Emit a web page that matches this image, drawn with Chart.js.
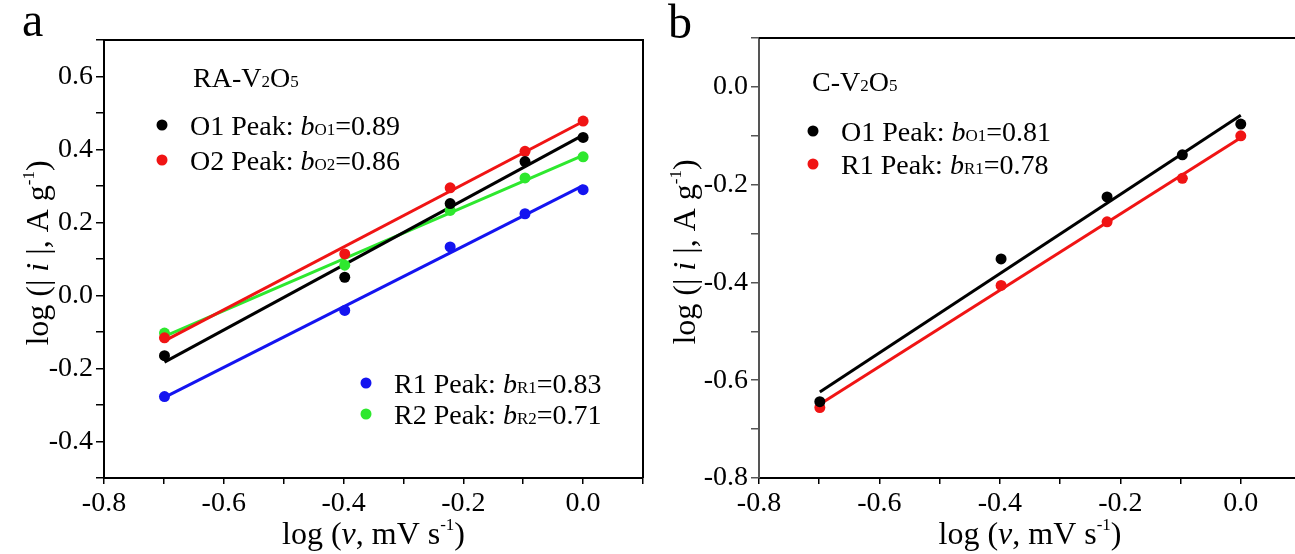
<!DOCTYPE html>
<html>
<head>
<meta charset="utf-8">
<script src="https://cdn.jsdelivr.net/npm/chart.js@4.4.1/dist/chart.umd.min.js"></script>
<style>
  html, body { margin: 0; padding: 0; background: #fff; overflow: hidden; width: 1295px; height: 554px; }
  canvas { position: absolute; top: 0; }
  #panelA { left: 0; }
  #panelB { left: 650px; }
</style>
</head>
<body>
<canvas id="panelA" width="650" height="554"></canvas>
<canvas id="panelB" width="680" height="554"></canvas>
<script>
// log10 of the scan rates 0.2, 0.4, 0.6, 0.8 and 1.0 mV/s
const logScanRate = [-0.699, -0.398, -0.222, -0.097, 0.0];

// RA-V2O5: log|i| of each redox peak
const raO1 = [-0.165, 0.050, 0.252, 0.367, 0.433];
const raO2 = [-0.116, 0.114, 0.295, 0.395, 0.478];
const raR1 = [-0.277, -0.041, 0.133, 0.224, 0.290];
const raR2 = [-0.103, 0.083, 0.233, 0.322, 0.380];
const raPeaks = ['O1', 'O2', 'R1', 'R2'];
const raB = [0.89, 0.86, 0.83, 0.71];

// C-V2O5: log|i| of each redox peak
const cO1 = [-0.644, -0.352, -0.225, -0.139, -0.076];
const cR1 = [-0.656, -0.406, -0.276, -0.187, -0.100];
const cPeaks = ['O1', 'R1'];
const cB = [0.81, 0.78];

// Axis ranges
const xRange = [-0.8, 0.1];
const raYRange = [-0.5, 0.7];
const cYRange = [-0.8, 0.1];

const COLORS = { black: '#000000', red: '#f01414', blue: '#1414f0', green: '#2ee82e' };
const SERIF = '"Liberation Serif", "Times New Roman", serif';
Chart.defaults.font.family = SERIF;

// Fit line with the reported slope b, passing through the centroid of the points
function fitLine(xs, ys, b) {
  const mx = xs.reduce((s, v) => s + v, 0) / xs.length;
  const my = ys.reduce((s, v) => s + v, 0) / ys.length;
  const x0 = Math.min(...xs), x1 = Math.max(...xs);
  return [{ x: x0, y: my + b * (x0 - mx) }, { x: x1, y: my + b * (x1 - mx) }];
}

function pointsOf(xs, ys) { return xs.map((x, i) => ({ x, y: ys[i] })); }

function seriesSets(list) {
  const sets = [];
  list.forEach(s => {
    sets.push({ type: 'scatter', data: pointsOf(logScanRate, s.y), backgroundColor: s.color,
      borderColor: s.color, pointRadius: 5.5, pointHoverRadius: 5.5, borderWidth: 0, order: 0 });
    sets.push({ type: 'line', data: fitLine(logScanRate, s.y, s.b), borderColor: s.color,
      borderWidth: 3, pointRadius: 0, fill: false, order: 1 });
  });
  return sets;
}

// Rich text: segments of { t, size, italic, dy }
function richWidth(ctx, segs) {
  let w = 0;
  segs.forEach(s => { ctx.font = (s.italic ? 'italic ' : '') + s.size + 'px ' + SERIF; w += ctx.measureText(s.t).width; });
  return w;
}
function drawRich(ctx, x, y, segs) {
  ctx.save();
  ctx.fillStyle = '#000';
  ctx.textBaseline = 'alphabetic';
  ctx.textAlign = 'left';
  let cx = x;
  segs.forEach(s => {
    ctx.font = (s.italic ? 'italic ' : '') + s.size + 'px ' + SERIF;
    ctx.fillText(s.t, cx, y + (s.dy || 0));
    cx += ctx.measureText(s.t).width;
  });
  ctx.restore();
}

const F = 28, SUB = 17, T = 32;
function xTitle() {
  return [{ t: 'log (', size: T }, { t: 'v', size: T, italic: true }, { t: ', mV s', size: T },
          { t: '-1', size: 17, dy: -14 }, { t: ')', size: T }];
}
function yTitle() {
  return [{ t: 'log (| ', size: T }, { t: 'i', size: T, italic: true }, { t: ' |, A g', size: T },
          { t: '-1', size: 17, dy: -14 }, { t: ')', size: T }];
}
function compound(name) {
  return [{ t: name + '-V', size: F }, { t: '2', size: SUB }, { t: 'O', size: F }, { t: '5', size: SUB }];
}
function peakLabel(peak, b) {
  return [{ t: peak + ' Peak: ', size: F }, { t: 'b', size: F, italic: true },
          { t: peak, size: SUB }, { t: '=' + b.toFixed(2), size: F }];
}

function tickFmt(v) {
  const r = Math.round(v * 10);
  if (r % 2 !== 0) return '';
  const val = r / 10;
  return (Math.abs(val) < 1e-9 ? 0 : val).toFixed(1);
}

// Annotation plugin: frame, axis titles, panel letter and legend text
function annotations(cfg) {
  return {
    id: 'annotations',
    afterDraw(chart) {
      const ctx = chart.ctx, a = chart.chartArea;
      ctx.save();
      ctx.strokeStyle = '#000';
      ctx.lineWidth = 2;
      ctx.beginPath();
      ctx.moveTo(a.left, a.top); ctx.lineTo(a.right, a.top); ctx.lineTo(a.right, a.bottom);
      ctx.stroke();
      ctx.restore();

      // panel letter
      drawRich(ctx, cfg.letter.x, cfg.letter.y, [{ t: cfg.letter.t, size: 48 }]);

      // x title
      const xs = xTitle();
      drawRich(ctx, (a.left + a.right) / 2 - richWidth(ctx, xs) / 2, cfg.xTitleY, xs);

      // y title (rotated)
      const ys = yTitle();
      ctx.save();
      ctx.translate(cfg.yTitleX, (a.top + a.bottom) / 2 - 6);
      ctx.rotate(-Math.PI / 2);
      drawRich(ctx, -richWidth(ctx, ys) / 2, 11, ys);
      ctx.restore();

      // legend
      drawRich(ctx, cfg.compound.x, cfg.compound.y, compound(cfg.compound.t));
      cfg.legend.forEach(l => {
        ctx.save();
        ctx.fillStyle = l.color;
        ctx.beginPath(); ctx.arc(l.x, l.y, 5.5, 0, Math.PI * 2); ctx.fill();
        ctx.restore();
        drawRich(ctx, l.x + 28, l.y + 10, peakLabel(l.peak, l.b));
      });
    }
  };
}

function makeChart(id, datasets, yRange, yWidth, padding, axisColor, cfg) {
  const axisFont = { family: SERIF, size: 28 };
  return new Chart(document.getElementById(id), {
    data: { datasets },
    options: {
      responsive: false, animation: false, devicePixelRatio: 1,
      layout: { padding },
      plugins: { legend: { display: false }, tooltip: { enabled: false } },
      events: [],
      scales: {
        x: {
          type: 'linear', min: xRange[0], max: xRange[1],
          ticks: { stepSize: 0.1, autoSkip: false, maxRotation: 0, color: '#000', font: axisFont,
                   padding: 3, callback: tickFmt },
          grid: { drawOnChartArea: false, drawTicks: true, tickLength: 6, color: '#000', lineWidth: 1.5 },
          border: { display: true, color: '#000', width: 2 },
          afterFit(s) { s.height = 76; }
        },
        y: {
          type: 'linear', min: yRange[0], max: yRange[1],
          ticks: { stepSize: 0.1, autoSkip: false, color: '#000', font: axisFont, padding: 3, callback: tickFmt },
          grid: { drawOnChartArea: false, drawTicks: true, tickLength: 8, color: axisColor, lineWidth: 1.5 },
          border: { display: true, color: axisColor, width: 2 },
          afterFit(s) { s.width = yWidth; }
        }
      }
    },
    plugins: [annotations(cfg)]
  });
}

// Panel a: RA-V2O5
const raSeries = [
  { y: raO1, color: COLORS.black, b: raB[0] },
  { y: raO2, color: COLORS.red, b: raB[1] },
  { y: raR1, color: COLORS.blue, b: raB[2] },
  { y: raR2, color: COLORS.green, b: raB[3] }
];
makeChart('panelA', seriesSets(raSeries), raYRange, 104, { left: 0, top: 40, right: 7, bottom: 0 }, '#000', {
  letter: { t: 'a', x: 22, y: 36 },
  xTitleY: 544, yTitleX: 37,
  compound: { t: 'RA', x: 193, y: 87 },
  legend: [
    { x: 162, y: 125, color: COLORS.black, peak: raPeaks[0], b: raB[0] },
    { x: 162, y: 160, color: COLORS.red, peak: raPeaks[1], b: raB[1] },
    { x: 366, y: 383, color: COLORS.blue, peak: raPeaks[2], b: raB[2] },
    { x: 366, y: 414, color: COLORS.green, peak: raPeaks[3], b: raB[3] }
  ]
});

// Panel b: C-V2O5
const cSeries = [
  { y: cO1, color: COLORS.black, b: cB[0] },
  { y: cR1, color: COLORS.red, b: cB[1] }
];
makeChart('panelB', seriesSets(cSeries), cYRange, 109, { left: 0, top: 38, right: 29, bottom: 0 }, '#555', {
  letter: { t: 'b', x: 18, y: 38 },
  xTitleY: 544, yTitleX: 34,
  compound: { t: 'C', x: 162, y: 91 },
  legend: [
    { x: 163, y: 131, color: COLORS.black, peak: cPeaks[0], b: cB[0] },
    { x: 163, y: 164, color: COLORS.red, peak: cPeaks[1], b: cB[1] }
  ]
});
</script>
</body>
</html>
